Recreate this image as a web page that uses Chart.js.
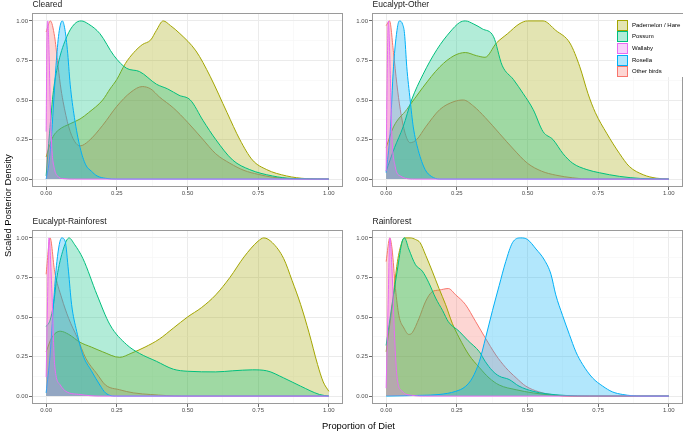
<!DOCTYPE html>
<html>
<head>
<meta charset="utf-8">
<script src="https://cdn.jsdelivr.net/npm/chart.js@4.4.1/dist/chart.umd.min.js"></script>
<style>
  body { margin: 0; background: #fff; font-family: "Liberation Sans", Arial, sans-serif; }
  #wrap { position: relative; width: 685px; height: 433px; overflow: hidden; }
  canvas { position: absolute; }
  .axis-title { position: absolute; font-size: 9.4px; font-weight: normal; color: #000; white-space: nowrap; }
  #ytitle { left: 3px; top: 154px; height: 104px; line-height: 10px; writing-mode: vertical-rl; transform: rotate(180deg); text-align: center; }
  #legend { position: absolute; left: 615px; top: 14px; width: 68px; height: 63px; background: #fff; }
  .key { position: absolute; left: 2px; width: 9px; height: 9px; }
  .key-label { position: absolute; left: 17px; font-size: 6px; line-height: 7px; color: #000; white-space: nowrap; }
</style>
</head>
<body>
<div id="wrap">
  <canvas id="cleared" width="345" height="202" style="left:0px;top:0px"></canvas>
  <canvas id="eucOther" width="345" height="202" style="left:340px;top:0px"></canvas>
  <canvas id="eucRain" width="345" height="202" style="left:0px;top:217px"></canvas>
  <canvas id="rainforest" width="345" height="202" style="left:340px;top:217px"></canvas>
  <div class="axis-title" style="left:322px;top:420px">Proportion of Diet</div>
  <div class="axis-title" id="ytitle">Scaled Posterior Density</div>
  <div id="legend"></div>
</div>
<script>
// series names / colours (legend order)
const seriesNames = ['Pademelon / Hare', 'Possum', 'Wallaby', 'Rosella', 'Other birds'];
const seriesColors = ['#A3A500', '#00BF7D', '#E76BF3', '#00B0F6', '#F8766D'];
const drawOrder = [3, 2, 0, 1, 4]; // lower = drawn on top

const tickValues = [0, 0.25, 0.5, 0.75, 1];
const tickLabels = ['0.00', '0.25', '0.50', '0.75', '1.00'];

// Cleared  [proportion, scaled density]
const clearedHare = [[0,0.14],[0.01,0.2],[0.025,0.27],[0.044,0.31],[0.085,0.35],[0.12,0.38],[0.15,0.42],[0.2,0.5],[0.226,0.57],[0.25,0.63],[0.28,0.73],[0.31,0.8],[0.34,0.85],[0.37,0.88],[0.39,0.94],[0.414,1.0],[0.44,0.97],[0.473,0.92],[0.53,0.81],[0.58,0.65],[0.64,0.42],[0.685,0.25],[0.73,0.12],[0.78,0.06],[0.85,0.02],[0.92,0.003],[1,0]];
const clearedPossum = [[0,0.02],[0.012,0.29],[0.026,0.56],[0.044,0.74],[0.073,0.9],[0.1,0.98],[0.124,1.0],[0.15,0.98],[0.19,0.92],[0.24,0.78],[0.285,0.7],[0.33,0.68],[0.39,0.6],[0.43,0.57],[0.47,0.53],[0.51,0.5],[0.555,0.37],[0.6,0.25],[0.66,0.12],[0.72,0.06],[0.8,0.02],[0.87,0.004],[1,0]];
const clearedWallaby = [[0,0.3],[0.003,0.9],[0.006,1.0],[0.01,0.82],[0.015,0.45],[0.02,0.2],[0.03,0.06],[0.04,0.02],[0.06,0.003],[0.1,0],[1,0]];
const clearedRosella = [[0,0],[0.01,0.1],[0.02,0.3],[0.027,0.5],[0.035,0.72],[0.045,0.92],[0.057,1.0],[0.065,0.96],[0.075,0.82],[0.085,0.6],[0.1,0.39],[0.12,0.2],[0.14,0.09],[0.16,0.05],[0.18,0.02],[0.21,0.005],[0.25,0],[1,0]];
const clearedBirds = [[0,0.93],[0.015,1.0],[0.03,0.9],[0.04,0.75],[0.05,0.6],[0.06,0.49],[0.08,0.33],[0.1,0.24],[0.12,0.21],[0.15,0.24],[0.2,0.34],[0.25,0.46],[0.3,0.55],[0.34,0.585],[0.37,0.57],[0.4,0.52],[0.45,0.45],[0.5,0.36],[0.55,0.26],[0.6,0.16],[0.65,0.1],[0.7,0.055],[0.75,0.03],[0.8,0.012],[0.85,0.004],[0.9,0],[1,0]];

// Eucalypt-Other
const eoHare = [[0,0.2],[0.026,0.33],[0.073,0.44],[0.13,0.58],[0.19,0.71],[0.24,0.78],[0.28,0.8],[0.32,0.78],[0.35,0.77],[0.39,0.86],[0.43,0.92],[0.47,0.98],[0.5,1.0],[0.555,1.0],[0.6,0.94],[0.65,0.86],[0.685,0.71],[0.714,0.54],[0.74,0.42],[0.78,0.29],[0.826,0.16],[0.86,0.08],[0.91,0.027],[0.955,0.006],[1,0]];
const eoPossum = [[0,0.05],[0.03,0.2],[0.06,0.33],[0.09,0.5],[0.13,0.66],[0.18,0.82],[0.226,0.93],[0.26,0.99],[0.28,1.0],[0.31,0.98],[0.34,0.95],[0.38,0.9],[0.41,0.72],[0.45,0.63],[0.485,0.54],[0.52,0.44],[0.555,0.3],[0.59,0.25],[0.626,0.16],[0.66,0.1],[0.71,0.06],[0.755,0.04],[0.826,0.017],[0.9,0.004],[1,0]];
const eoWallaby = [[0,0.05],[0.004,0.7],[0.008,1.0],[0.014,0.71],[0.02,0.29],[0.032,0.08],[0.05,0.02],[0.1,0],[1,0]];
const eoRosella = [[0,0.04],[0.014,0.29],[0.026,0.71],[0.04,0.96],[0.047,1.0],[0.058,0.98],[0.065,0.92],[0.073,0.71],[0.085,0.5],[0.096,0.33],[0.114,0.18],[0.138,0.06],[0.16,0.017],[0.19,0],[1,0]];
const eoBirds = [[0,0.97],[0.012,1.0],[0.026,0.8],[0.038,0.6],[0.05,0.44],[0.067,0.29],[0.085,0.23],[0.108,0.25],[0.14,0.33],[0.19,0.44],[0.24,0.49],[0.273,0.5],[0.31,0.46],[0.35,0.39],[0.4,0.29],[0.45,0.19],[0.5,0.1],[0.55,0.05],[0.6,0.025],[0.66,0.008],[0.72,0],[1,0]];

// Eucalypt-Rainforest
const erHare = [[0,0.28],[0.02,0.37],[0.05,0.41],[0.08,0.39],[0.12,0.34],[0.16,0.31],[0.2,0.28],[0.26,0.245],[0.3,0.27],[0.35,0.31],[0.4,0.36],[0.45,0.43],[0.5,0.5],[0.55,0.56],[0.6,0.64],[0.65,0.75],[0.7,0.88],[0.75,0.98],[0.77,1.0],[0.8,0.97],[0.84,0.87],[0.87,0.73],[0.9,0.58],[0.93,0.4],[0.96,0.2],[0.98,0.09],[1,0.03]];
const erPossum = [[0,0.44],[0.014,0.48],[0.026,0.58],[0.038,0.75],[0.061,0.93],[0.081,1.0],[0.1,0.96],[0.13,0.87],[0.18,0.64],[0.226,0.45],[0.285,0.325],[0.33,0.27],[0.39,0.22],[0.45,0.17],[0.5,0.157],[0.6,0.153],[0.66,0.16],[0.73,0.166],[0.78,0.16],[0.84,0.115],[0.9,0.063],[0.967,0.01],[1,0]];
const erWallaby = [[0,0.12],[0.005,0.6],[0.01,1.0],[0.02,0.68],[0.03,0.2],[0.05,0.07],[0.07,0.03],[0.12,0.01],[0.19,0],[1,0]];
const erRosella = [[0,0.02],[0.014,0.26],[0.026,0.58],[0.038,0.85],[0.055,1.0],[0.067,0.98],[0.079,0.79],[0.09,0.58],[0.108,0.41],[0.13,0.26],[0.16,0.16],[0.19,0.07],[0.21,0.02],[0.25,0],[1,0]];
const erBirds = [[0,0.77],[0.014,1.0],[0.03,0.79],[0.055,0.62],[0.08,0.49],[0.11,0.37],[0.14,0.24],[0.18,0.14],[0.21,0.07],[0.26,0.04],[0.31,0.02],[0.37,0.01],[0.48,0],[1,0]];

// Rainforest
const rfHare = [[0,0.28],[0.02,0.55],[0.04,0.85],[0.055,0.97],[0.065,1.0],[0.085,1.0],[0.104,0.99],[0.12,0.97],[0.14,0.89],[0.163,0.79],[0.187,0.68],[0.21,0.58],[0.234,0.46],[0.258,0.37],[0.293,0.26],[0.33,0.18],[0.364,0.115],[0.4,0.07],[0.46,0.04],[0.52,0.02],[0.59,0.006],[0.66,0],[1,0]];
const rfPossum = [[0,0.32],[0.021,0.58],[0.039,0.79],[0.057,0.98],[0.065,1.0],[0.08,0.93],[0.104,0.83],[0.128,0.79],[0.15,0.72],[0.175,0.62],[0.2,0.54],[0.22,0.47],[0.258,0.41],[0.29,0.35],[0.33,0.28],[0.35,0.22],[0.376,0.16],[0.4,0.126],[0.435,0.105],[0.47,0.063],[0.52,0.03],[0.565,0.015],[0.636,0.004],[0.72,0],[1,0]];
const rfWallaby = [[0,0.05],[0.007,0.58],[0.013,1.0],[0.021,0.79],[0.03,0.37],[0.039,0.115],[0.057,0.03],[0.09,0.005],[0.14,0],[1,0]];
const rfRosella = [[0,0],[0.128,0.005],[0.187,0.01],[0.246,0.03],[0.28,0.06],[0.305,0.115],[0.33,0.22],[0.352,0.37],[0.376,0.54],[0.4,0.7],[0.423,0.85],[0.447,0.97],[0.476,1.0],[0.5,0.99],[0.53,0.93],[0.56,0.86],[0.583,0.77],[0.6,0.64],[0.624,0.51],[0.648,0.39],[0.671,0.28],[0.695,0.2],[0.73,0.115],[0.766,0.063],[0.8,0.027],[0.837,0.01],[0.9,0],[1,0]];
const rfBirds = [[0,0.85],[0.013,1.0],[0.021,0.93],[0.033,0.68],[0.045,0.51],[0.063,0.43],[0.08,0.39],[0.092,0.4],[0.116,0.49],[0.14,0.6],[0.163,0.66],[0.187,0.67],[0.22,0.68],[0.246,0.64],[0.28,0.58],[0.317,0.47],[0.35,0.37],[0.388,0.26],[0.423,0.18],[0.46,0.115],[0.494,0.063],[0.54,0.027],[0.6,0.006],[0.66,0],[1,0]];

const panels = [
  { id: 'cleared', title: 'Cleared', series: [clearedHare, clearedPossum, clearedWallaby, clearedRosella, clearedBirds] },
  { id: 'eucOther', title: 'Eucalypt-Other', series: [eoHare, eoPossum, eoWallaby, eoRosella, eoBirds] },
  { id: 'eucRain', title: 'Eucalypt-Rainforest', series: [erHare, erPossum, erWallaby, erRosella, erBirds] },
  { id: 'rainforest', title: 'Rainforest', series: [rfHare, rfPossum, rfWallaby, rfRosella, rfBirds] }
];

Chart.defaults.font.family = '"Liberation Sans", Arial, sans-serif';

function rgba(hex, a) {
  const n = parseInt(hex.slice(1), 16);
  return `rgba(${n >> 16},${(n >> 8) & 255},${n & 255},${a})`;
}

const isMajor = v => tickValues.some(t => Math.abs(t - v) < 1e-9);
const allTicks = [];
tickValues.forEach((t, i) => {
  allTicks.push(t);
  if (i < tickValues.length - 1) allTicks.push((t + tickValues[i + 1]) / 2);
});

// panel title + border like ggplot facets
const facetDecor = {
  id: 'facetDecor',
  afterDraw(chart, args, opts) {
    const { ctx, chartArea: a } = chart;
    ctx.save();
    ctx.strokeStyle = '#9a9a9a';
    ctx.lineWidth = 1;
    ctx.strokeRect(Math.round(a.left) + 0.5, Math.round(a.top) + 0.5,
      Math.round(a.right - a.left) - 1, Math.round(a.bottom - a.top) - 1);
    ctx.fillStyle = '#1a1a1a';
    ctx.font = '8.5px "Liberation Sans", Arial, sans-serif';
    ctx.textBaseline = 'middle';
    ctx.fillText(opts.text, a.left + 0.5, a.top - 8);
    ctx.restore();
  }
};

function axis(fitProp, fitVal) {
  return {
    type: 'linear',
    min: -0.05,
    max: 1.05,
    afterBuildTicks: s => { s.ticks = allTicks.map(v => ({ value: v })); },
    afterFit: s => { s[fitProp] = fitVal; },
    ticks: {
      autoSkip: false,
      maxRotation: 0,
      padding: fitProp === 'width' ? 1 : 0,
      color: '#4d4d4d',
      font: { size: 6 },
      callback: v => { const i = tickValues.findIndex(t => Math.abs(t - v) < 1e-9); return i >= 0 ? tickLabels[i] : ''; }
    },
    grid: {
      color: c => isMajor(c.tick.value) ? '#ebebeb' : '#f5f5f5',
      lineWidth: c => isMajor(c.tick.value) ? 1 : 0.6,
      tickLength: 3,
      tickWidth: 1,
      tickColor: c => isMajor(c.tick.value) ? '#6a6a6a' : 'rgba(0,0,0,0)'
    },
    border: { display: false }
  };
}

panels.forEach(p => {
  new Chart(document.getElementById(p.id), {
    type: 'line',
    data: {
      datasets: p.series.map((pts, i) => ({
        label: seriesNames[i],
        data: pts,
        order: drawOrder[i],
        borderColor: seriesColors[i],
        backgroundColor: rgba(seriesColors[i], 0.3),
        borderWidth: 1,
        fill: 'origin',
        pointRadius: 0,
        cubicInterpolationMode: 'monotone'
      }))
    },
    options: {
      responsive: false,
      animation: false,
      layout: { padding: { top: 13, right: 2, left: 0, bottom: 0 } },
      scales: { x: axis('height', 15), y: axis('width', 32) },
      plugins: {
        legend: { display: false },
        tooltip: { enabled: false },
        facetDecor: { text: p.title }
      }
    },
    plugins: [facetDecor]
  });
});

// legend inside Eucalypt-Other panel
const legend = document.getElementById('legend');
seriesNames.forEach((name, i) => {
  const top = 5.5 + i * 11.7;
  const key = document.createElement('div');
  key.className = 'key';
  key.style.top = top + 'px';
  key.style.background = rgba(seriesColors[i], 0.3);
  key.style.border = '1px solid ' + seriesColors[i];
  legend.appendChild(key);
  const lab = document.createElement('div');
  lab.className = 'key-label';
  lab.style.top = (top + 2) + 'px';
  lab.textContent = name;
  legend.appendChild(lab);
});
</script>
</body>
</html>
